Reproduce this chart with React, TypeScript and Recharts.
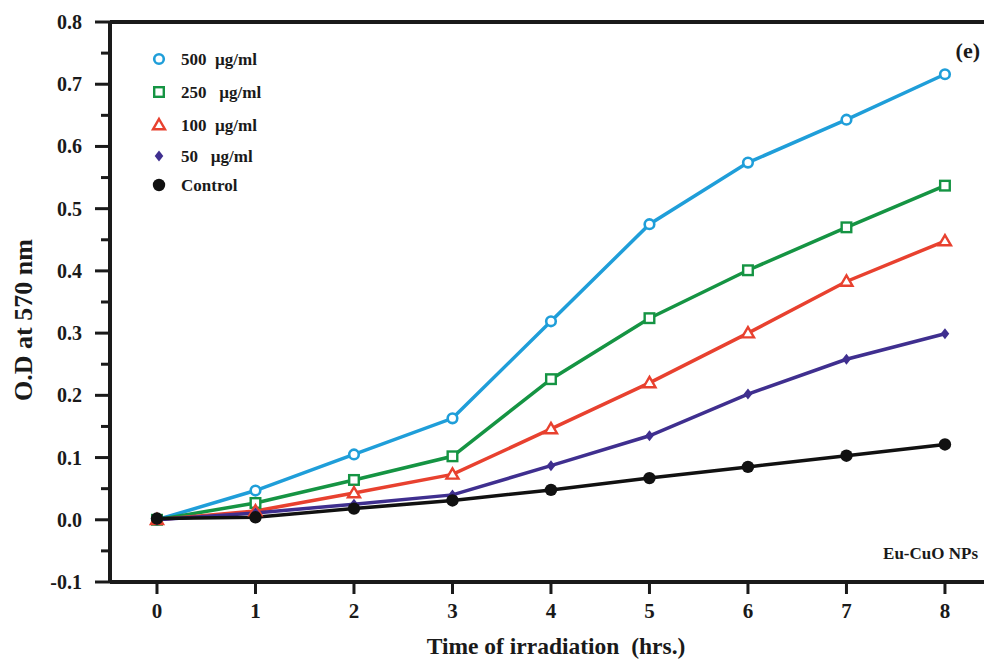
import { LineChart, Line, XAxis, YAxis, Legend, ReferenceLine } from 'recharts';

// ─── Data ──────────────────────────────────────────────────────────────────
const hours = [0, 1, 2, 3, 4, 5, 6, 7, 8];
const od500 = [0, 0.047, 0.105, 0.163, 0.319, 0.475, 0.574, 0.643, 0.716];
const od250 = [0, 0.027, 0.064, 0.102, 0.226, 0.324, 0.401, 0.47, 0.537];
const od100 = [0, 0.014, 0.043, 0.073, 0.146, 0.22, 0.3, 0.383, 0.448];
const od50 = [0, 0.011, 0.025, 0.04, 0.087, 0.135, 0.202, 0.258, 0.299];
const odControl = [0.002, 0.004, 0.018, 0.031, 0.048, 0.067, 0.085, 0.103, 0.121];

const xTicks = [0, 1, 2, 3, 4, 5, 6, 7, 8];
const yTicks = [
  -0.1, -0.05, 0, 0.05, 0.1, 0.15, 0.2, 0.25, 0.3, 0.35,
  0.4, 0.45, 0.5, 0.55, 0.6, 0.65, 0.7, 0.75, 0.8,
];

const chartData = hours.map((h, i) => ({
  h,
  c500: od500[i],
  c250: od250[i],
  c100: od100[i],
  c50: od50[i],
  control: odControl[i],
}));

// ─── Styles ────────────────────────────────────────────────────────────────
const FONT = "'Liberation Serif', 'Times New Roman', serif";
const INK = '#1a1a1a';

type Shape = 'circle' | 'square' | 'triangle' | 'diamond' | 'dot';

const SERIES: { key: string; label: string; color: string; shape: Shape }[] = [
  { key: 'c500', label: '500  \u00b5g/ml', color: '#1f9ed9', shape: 'circle' },
  { key: 'c250', label: '250   \u00b5g/ml', color: '#159443', shape: 'square' },
  { key: 'c100', label: '100  \u00b5g/ml', color: '#e8412f', shape: 'triangle' },
  { key: 'c50', label: '50   \u00b5g/ml', color: '#3f2f8f', shape: 'diamond' },
  { key: 'control', label: 'Control', color: '#111111', shape: 'dot' },
];

const Marker = ({ cx, cy, shape, color }: { cx: number; cy: number; shape: Shape; color: string }) => {
  if (cx == null || cy == null) return null;
  switch (shape) {
    case 'circle':
      return <circle cx={cx} cy={cy} r={4.8} fill="#fff" stroke={color} strokeWidth={2.6} />;
    case 'square':
      return <rect x={cx - 4.8} y={cy - 4.8} width={9.6} height={9.6} fill="#fff" stroke={color} strokeWidth={2.4} />;
    case 'triangle':
      return (
        <polygon
          points={`${cx},${cy - 6} ${cx + 6},${cy + 4.3} ${cx - 6},${cy + 4.3}`}
          fill="#fff"
          stroke={color}
          strokeWidth={2.4}
        />
      );
    case 'diamond':
      return <polygon points={`${cx},${cy - 5.5} ${cx + 4.3},${cy} ${cx},${cy + 5.5} ${cx - 4.3},${cy}`} fill={color} />;
    default:
      return <circle cx={cx} cy={cy} r={6.2} fill={color} />;
  }
};

// ─── Axis ticks ────────────────────────────────────────────────────────────
const YTick = (props: any) => {
  const { x, y, payload } = props;
  const v = payload.value as number;
  const major = Math.round(v * 100) % 10 === 0;
  return (
    <g>
      <line x1={x - (major ? 15 : 9)} x2={x} y1={y} y2={y} stroke={INK} strokeWidth={3} />
      {major && (
        <text x={x - 28} y={y} dy={7} textAnchor="end" fontFamily={FONT} fontWeight="bold" fontSize={20} fill={INK}>
          {v.toFixed(1)}
        </text>
      )}
    </g>
  );
};

const XTick = (props: any) => {
  const { x, y, payload } = props;
  return (
    <text x={x} y={y} dy={20} textAnchor="middle" fontFamily={FONT} fontWeight="bold" fontSize={21} fill={INK}>
      {payload.value}
    </text>
  );
};

// ─── Legend ────────────────────────────────────────────────────────────────
const LEGEND_ROWS = [11, 44, 77, 108, 137];

const LegendBox = () => (
  <svg width={150} height={150}>
    {SERIES.map((s, i) => (
      <g key={s.key}>
        <Marker cx={11} cy={LEGEND_ROWS[i]} shape={s.shape} color={s.color} />
        <text
          x={33}
          y={LEGEND_ROWS[i] + 6}
          fontFamily={FONT}
          fontWeight="bold"
          fontSize={17}
          fill={INK}
          xmlSpace="preserve"
          style={{ whiteSpace: 'pre' }}
        >
          {s.label}
        </text>
      </g>
    ))}
  </svg>
);

// ─── Chart ─────────────────────────────────────────────────────────────────
const X_DOMAIN: [number, number] = [-0.477, 8.437];
const Y_DOMAIN: [number, number] = [-0.1, 0.8];

export default function App() {
  return (
    <div style={{ position: 'relative', width: 984, height: 652 }}>
      <LineChart width={984} height={652} data={chartData} margin={{ top: 14, right: 4, bottom: 28, left: 22 }}>
        <XAxis
          dataKey="h"
          type="number"
          domain={X_DOMAIN}
          ticks={xTicks}
          interval={0}
          allowDataOverflow
          height={50}
          tickSize={12}
          tickMargin={4}
          axisLine={{ stroke: INK, strokeWidth: 4 }}
          tickLine={{ stroke: INK, strokeWidth: 3 }}
          tick={<XTick />}
          label={{
            content: () => (
              <text
                x={548}
                y={646}
                textAnchor="middle"
                fontFamily={FONT}
                fontWeight="bold"
                fontSize={23.5}
                fill={INK}
                xmlSpace="preserve"
                style={{ whiteSpace: 'pre' }}
              >
                Time of irradiation  (hrs.)
              </text>
            ),
          }}
        />
        <YAxis
          type="number"
          domain={Y_DOMAIN}
          ticks={yTicks}
          interval={0}
          allowDataOverflow
          width={80}
          tickSize={0}
          tickMargin={0}
          tickLine={false}
          axisLine={{ stroke: INK, strokeWidth: 4 }}
          tick={<YTick />}
          label={{
            content: () => (
              <text
                x={15}
                y={312}
                transform="rotate(-90 15 312)"
                textAnchor="middle"
                dominantBaseline="central"
                fontFamily={FONT}
                fontWeight="bold"
                fontSize={26}
                fill={INK}
              >
                O.D at 570 nm
              </text>
            ),
          }}
        />
        {/* frame: top and right edges */}
        <ReferenceLine y={Y_DOMAIN[1]} stroke={INK} strokeWidth={4} ifOverflow="visible" />
        <ReferenceLine x={X_DOMAIN[1]} stroke="#666" strokeWidth={2} ifOverflow="visible" />
        <Legend
          layout="vertical"
          align="center"
          verticalAlign="middle"
          content={() => <LegendBox />}
          wrapperStyle={{ left: 140, top: 40, width: 150, height: 150 }}
        />
        {SERIES.map((s) => (
          <Line
            key={s.key}
            type="linear"
            dataKey={s.key}
            stroke={s.color}
            strokeWidth={3.5}
            isAnimationActive={false}
            dot={(p: any) => <Marker key={`${s.key}-${p.index}`} cx={p.cx} cy={p.cy} shape={s.shape} color={s.color} />}
            activeDot={false}
          />
        ))}
      </LineChart>
      <div
        style={{
          position: 'absolute',
          left: 900,
          top: 30,
          width: 72,
          textAlign: 'right',
          fontFamily: FONT,
          fontWeight: 'bold',
          fontSize: 22,
          color: INK,
          lineHeight: '26px',
        }}
      >
        (e)
      </div>
      <div
        style={{
          position: 'absolute',
          left: 820,
          top: 536,
          width: 150,
          textAlign: 'right',
          fontFamily: FONT,
          fontWeight: 'bold',
          fontSize: 17,
          color: INK,
          lineHeight: '20px',
        }}
      >
        Eu-CuO NPs
      </div>
    </div>
  );
}
